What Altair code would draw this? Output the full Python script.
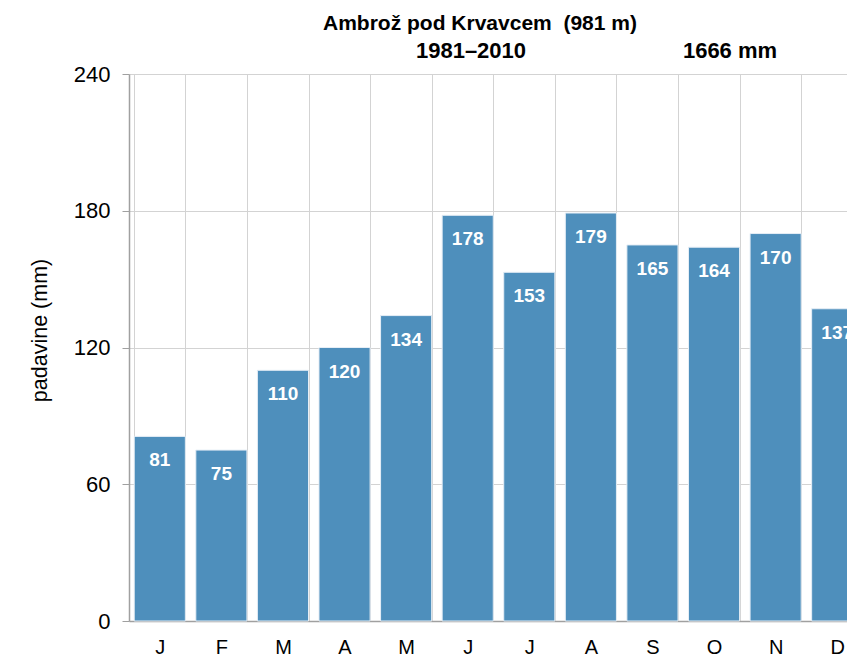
import altair as alt
import pandas as pd

months = ["jan", "feb", "mar", "apr", "maj", "jun", "jul", "avg", "sep", "okt", "nov", "dec"]
month_labels = ["J", "F", "M", "A", "M", "J", "J", "A", "S", "O", "N", "D"]
precip = [81, 75, 110, 120, 134, 178, 153, 179, 165, 164, 170, 137]
y_ticks = [0, 60, 120, 180, 240]

title_line1 = "Ambrož pod Krvavcem\u00a0 (981 m)"
period = "1981–2010"
total = "1666 mm"

df = pd.DataFrame({"mesec": months, "padavine": precip})

label_expr = "{" + ", ".join(f"'{m}': '{l}'" for m, l in zip(months, month_labels)) + "}[datum.value]"

FONT = "Liberation Sans"
BAR = "#4e8fbc"

x_enc = alt.X(
    "mesec:N",
    sort=months,
    title=None,
    scale=alt.Scale(range=[0, 739], paddingInner=0.17, paddingOuter=0.085),
    axis=alt.Axis(
        labelExpr=label_expr,
        labelAngle=0,
        labelFont=FONT,
        labelFontSize=20,
        labelColor="#000000",
        labelPadding=16,
        ticks=False,
        tickSize=0,
        grid=True,
        gridColor="#d3d3d3",
        gridWidth=1,
        tickBand="extent",
        domainColor="#a0a0a0",
        domainWidth=1.5,
    ),
)

y_enc = alt.Y(
    "padavine:Q",
    scale=alt.Scale(domain=[0, 240], nice=False),
    axis=alt.Axis(
        values=y_ticks,
        title="padavine (mm)",
        titleFont=FONT,
        titleFontSize=21.5,
        titleFontWeight="normal",
        titleColor="#000000",
        titleX=-89,
        titleY=256,
        titleAngle=-90,
        titleAlign="center",
        titleBaseline="middle",
        labelFont=FONT,
        labelFontSize=22,
        labelColor="#000000",
        labelPadding=12,
        tickSize=7,
        tickColor="#a0a0a0",
        domainColor="#a0a0a0",
        domainWidth=1.5,
        gridColor="#d3d3d3",
        gridWidth=1,
    ),
)

bars = alt.Chart(df).mark_bar(color=BAR, stroke="#e6eef6", strokeWidth=1).encode(x=x_enc, y=y_enc)

labels = alt.Chart(df).mark_text(
    color="white", font=FONT, fontSize=19, fontWeight="bold", baseline="middle", dy=24
).encode(x=alt.X("mesec:N", sort=months), y="padavine:Q", text="padavine:Q")

title_df = pd.DataFrame({
    "t": [title_line1, period, total],
    "px": [351, 342, 601],
    "py": [-50, -23, -23],
    "fs": [21, 22, 22],
})
titles = alt.Chart(title_df).mark_text(
    font=FONT, fontWeight="bold", color="#000000", baseline="middle", align="center"
).encode(
    text="t:N",
    x=alt.X("px:Q", scale=None),
    y=alt.Y("py:Q", scale=None),
    size=alt.Size("fs:Q", scale=None, legend=None),
)

chart = (
    alt.layer(bars, labels, titles)
    .properties(
        width=718,
        height=547,
        autosize=alt.AutoSizeParams(type="none"),
        padding={"left": 121, "top": 66, "right": 0, "bottom": 36},
        background="white",
    )
    .configure_view(stroke=None)
)

chart.save("out.html", embed_options={"renderer": "svg", "actions": False})
